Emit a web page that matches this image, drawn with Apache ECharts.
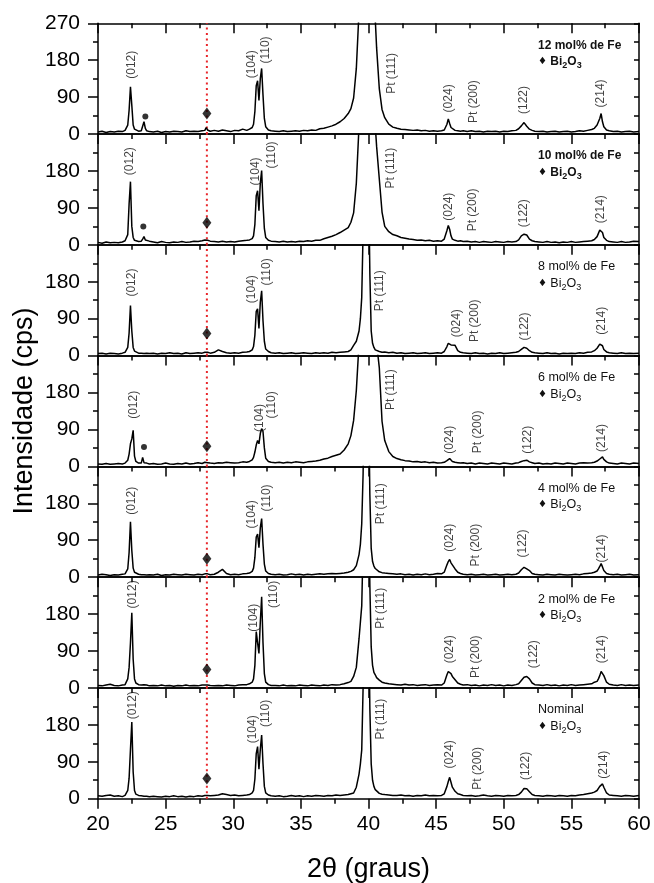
<!DOCTYPE html>
<html><head><meta charset="utf-8">
<script src="https://cdn.jsdelivr.net/npm/echarts@6/dist/echarts.min.js"></script>
<style>html,body{margin:0;padding:0;background:#fff}#c{width:654px;height:883px}</style>
</head><body><div id="c"></div><script>
const FONT = '"Liberation Sans", Arial, Helvetica, sans-serif';

// 2θ sampling positions (degrees), shared by all patterns
const twoTheta = [
  20.0, 20.3, 20.6, 20.9, 21.2, 21.5, 21.8,
  22.0, 22.1, 22.2, 22.3, 22.4, 22.5, 22.6, 22.7, 22.8, 23.0,
  23.2, 23.3, 23.4, 23.5, 23.6, 23.8,
  24.1, 24.4, 24.7, 25.0, 25.3, 25.6, 25.9, 26.2, 26.5, 26.8, 27.1, 27.4, 27.7,
  27.9, 28.0, 28.1, 28.3,
  28.6, 28.9, 29.2, 29.5, 29.8, 30.1, 30.4, 30.7, 31.0,
  31.2, 31.4, 31.5, 31.6, 31.7, 31.8, 31.9, 32.0, 32.1, 32.2, 32.3, 32.4, 32.6, 32.8,
  33.1, 33.4, 33.7, 34.0, 34.3, 34.6, 34.9, 35.2, 35.5, 35.8, 36.1, 36.4, 36.7, 37.0, 37.3, 37.6,
  37.9, 38.2, 38.5, 38.7, 38.9, 39.1, 39.3, 39.4, 39.5, 39.6, 39.7, 39.8, 39.9, 40.0, 40.1, 40.2, 40.3, 40.4, 40.5, 40.6, 40.8, 41.0, 41.2, 41.5, 41.8,
  42.1, 42.4, 42.7, 43.0, 43.3, 43.6, 43.9, 44.2, 44.5, 44.8, 45.1, 45.4,
  45.6, 45.8, 45.9, 46.0, 46.1, 46.2, 46.4, 46.6, 46.8, 47.0,
  47.3, 47.6, 47.9, 48.2, 48.5, 48.8, 49.1, 49.4, 49.7, 50.0, 50.3, 50.6,
  50.9, 51.1, 51.3, 51.5, 51.7, 51.9, 52.1, 52.3,
  52.6, 52.9, 53.2, 53.5, 53.8, 54.1, 54.4, 54.7, 55.0, 55.3, 55.6, 55.9, 56.2,
  56.5, 56.7, 56.9, 57.0, 57.1, 57.2, 57.3, 57.4, 57.6, 57.8,
  58.1, 58.4, 58.7, 59.0, 59.3, 59.6, 60.0
];

// Intensities (cps), one array per sample
const int12 = [
  5, 7, 4, 6, 5, 7, 6,
  9, 13, 22, 58, 115, 70, 22, 12, 9, 7,
  8, 12, 30, 14, 8, 6,
  5, 7, 4, 6, 5, 7, 6, 5, 8, 6, 7, 6, 8,
  9, 16, 10, 7,
  9, 7, 10, 8, 6, 9, 8, 12, 9,
  12, 16, 24, 55, 118, 130, 82, 135, 160, 95, 38, 18, 10, 8,
  7, 6, 8, 6, 7, 8, 7, 9, 8, 10, 9, 13, 14, 17, 20, 24,
  30, 38, 50, 62, 88, 160, 300, 400, 500, 600, 700, 750, 750, 700, 600, 500, 400, 320, 280, 210, 110, 60, 40, 24, 17,
  14, 12, 11, 10, 9, 10, 8, 9, 7, 8, 7, 8,
  10, 24, 37, 26, 16, 12, 9, 8, 7, 8,
  6, 8, 6, 7, 5, 7, 6, 7, 5, 7, 6, 8,
  9, 13, 20, 28, 19, 12, 9, 7,
  6, 7, 5, 6, 7, 5, 6, 7, 5, 6, 8, 7, 9,
  11, 14, 22, 30, 38, 50, 30, 18, 10, 8,
  6, 7, 5, 6, 7, 5, 6
];
const int10 = [
  6, 4, 7, 5, 6, 5, 7,
  10, 12, 25, 100, 154, 45, 18, 11, 10, 8,
  9, 14, 20, 12, 14, 9,
  7, 5, 8, 6, 5, 7, 6, 8, 6, 7, 9, 8, 10,
  12, 14, 11, 9,
  8, 7, 9, 7, 8, 7, 9, 10, 11,
  12, 15, 22, 50, 120, 132, 83, 150, 181, 100, 40, 18, 11, 9,
  8, 7, 9, 7, 8, 7, 9, 8, 10, 9, 11, 11, 15, 18, 21, 25,
  30, 36, 42, 55, 78, 150, 290, 400, 500, 600, 700, 750, 750, 700, 600, 500, 420, 350, 290, 240, 160, 80, 45, 32, 25,
  22, 18, 16, 14, 13, 11, 12, 10, 11, 9, 10, 9,
  14, 35, 47, 38, 22, 14, 11, 9, 10, 8,
  9, 7, 8, 6, 8, 7, 6, 8, 7, 6, 8, 7,
  8, 12, 22, 26, 24, 14, 10, 8,
  7, 6, 8, 6, 7, 5, 7, 6, 8, 6, 7, 8, 9,
  10, 13, 20, 28, 36, 40, 30, 18, 11, 8,
  7, 6, 8, 6, 7, 9, 8
];
const int8 = [
  5, 6, 4, 6, 5, 4, 6,
  8, 12, 20, 55, 122, 60, 20, 11, 8, 6,
  6, 7, 5, 7, 6, 5,
  6, 4, 6, 5, 7, 5, 6, 4, 7, 5, 6, 7, 6,
  8, 10, 8, 6,
  8, 14, 10, 7, 6, 7, 6, 8, 9,
  10, 14, 22, 50, 108, 114, 66, 130, 158, 85, 35, 16, 10, 7,
  6, 7, 5, 6, 7, 5, 6, 7, 6, 5, 7, 6, 7, 6, 8, 7,
  8, 9, 10, 14, 25, 35, 60, 90, 142, 300, 600, 750, 700, 450, 200, 60, 30, 20, 14, 12, 10, 8, 9, 7, 8,
  6, 7, 5, 6, 7, 5, 6, 7, 5, 6, 7, 6,
  10, 22, 30, 32, 26, 30, 25, 12, 8, 7,
  6, 5, 7, 5, 6, 4, 6, 5, 7, 5, 6, 7,
  8, 10, 15, 20, 18, 12, 8, 7,
  6, 5, 7, 5, 6, 4, 6, 5, 6, 5, 7, 6, 8,
  9, 12, 18, 22, 28, 32, 24, 15, 9, 7,
  6, 5, 7, 5, 6, 5, 6
];
const int6 = [
  6, 5, 7, 5, 6, 7, 6,
  8, 10, 15, 30, 55, 67, 88, 25, 12, 8,
  8, 22, 9, 7, 8, 6,
  7, 5, 6, 8, 6, 5, 7, 6, 8, 6, 7, 9, 7,
  10, 12, 9, 8,
  7, 9, 8, 10, 9, 8, 9, 11, 10,
  12, 16, 22, 35, 52, 63, 55, 80, 92, 85, 45, 20, 12, 10,
  9, 10, 8, 10, 9, 11, 10, 9, 11, 12, 13, 15, 18, 20, 24, 27,
  30, 40, 55, 75, 112, 185, 300, 400, 500, 600, 700, 750, 750, 720, 650, 560, 470, 400, 350, 300, 240, 110, 63, 36, 24,
  19, 16, 14, 13, 11, 12, 10, 11, 9, 10, 8, 9,
  10, 14, 17, 19, 15, 12, 10, 9, 8, 9,
  7, 8, 6, 8, 7, 6, 8, 7, 6, 8, 7, 6,
  8, 9, 12, 14, 15, 11, 9, 7,
  8, 6, 7, 6, 8, 7, 6, 8, 7, 6, 8, 9, 8,
  9, 10, 13, 16, 18, 21, 23, 17, 11, 8,
  7, 6, 8, 7, 6, 8, 7
];
const int4 = [
  5, 7, 6, 4, 6, 5, 7,
  8, 11, 20, 60, 135, 65, 22, 12, 9, 7,
  6, 8, 6, 7, 5, 6,
  5, 7, 4, 6, 5, 7, 6, 5, 7, 6, 5, 7, 6,
  8, 10, 8, 6,
  7, 12, 19, 9, 6, 7, 6, 8, 9,
  10, 14, 22, 48, 98, 105, 72, 120, 143, 80, 32, 15, 9, 7,
  6, 7, 5, 6, 8, 6, 7, 5, 7, 6, 7, 8, 7, 8, 9, 8,
  9, 10, 12, 14, 18, 28, 55, 80, 130, 250, 500, 700, 650, 450, 200, 70, 38, 27, 21, 17, 13, 11, 10, 9, 8,
  7, 8, 6, 7, 5, 7, 6, 8, 6, 7, 9, 8,
  12, 30, 38, 43, 35, 30, 20, 12, 9, 7,
  6, 7, 5, 6, 7, 5, 6, 7, 5, 6, 7, 6,
  7, 10, 18, 24, 20, 16, 9, 7,
  6, 5, 7, 6, 5, 7, 6, 5, 6, 7, 6, 8, 9,
  10, 12, 15, 20, 26, 33, 25, 16, 9, 7,
  6, 7, 5, 6, 7, 5, 6
];
const int2 = [
  6, 5, 7, 9, 6, 5, 7,
  8, 12, 22, 50, 110, 183, 70, 22, 12, 8,
  7, 6, 8, 6, 7, 5,
  6, 5, 7, 5, 6, 4, 6, 5, 7, 5, 6, 5, 7,
  7, 9, 7, 6,
  5, 6, 5, 7, 6, 5, 7, 8, 8,
  10, 14, 22, 55, 137, 110, 84, 160, 222, 110, 35, 14, 8, 6,
  6, 5, 7, 5, 6, 5, 7, 6, 5, 7, 6, 5, 7, 6, 8, 7,
  8, 10, 13, 16, 28, 50, 120, 160, 200, 350, 600, 750, 700, 500, 250, 100, 55, 38, 32, 25, 19, 14, 12, 10, 9,
  8, 7, 9, 7, 8, 6, 7, 8, 6, 7, 8, 7,
  12, 32, 40, 44, 35, 28, 20, 12, 9, 7,
  8, 6, 7, 5, 7, 6, 8, 6, 7, 5, 7, 6,
  8, 10, 18, 26, 28, 22, 12, 8,
  7, 6, 8, 6, 7, 5, 7, 6, 8, 6, 7, 8, 9,
  10, 14, 16, 22, 30, 40, 44, 30, 14, 9,
  7, 6, 8, 6, 7, 6, 7
];
const intNominal = [
  7, 6, 8, 9, 6, 7, 5,
  8, 11, 20, 50, 120, 187, 65, 20, 11, 8,
  7, 8, 6, 7, 6, 5,
  6, 5, 4, 6, 5, 7, 5, 6, 4, 6, 5, 7, 6,
  8, 10, 8, 7,
  8, 9, 12, 10, 8, 9, 7, 8, 9,
  10, 14, 20, 48, 110, 127, 72, 120, 155, 85, 30, 14, 9, 7,
  6, 7, 5, 6, 8, 6, 7, 5, 7, 6, 8, 7, 6, 8, 7, 9,
  8, 9, 10, 12, 14, 28, 60, 85, 119, 270, 550, 750, 700, 500, 220, 85, 45, 30, 22, 18, 13, 11, 10, 9, 8,
  8, 9, 7, 8, 6, 8, 7, 9, 7, 8, 7, 8,
  12, 30, 42, 52, 40, 28, 18, 12, 10, 8,
  7, 8, 6, 7, 9, 7, 6, 8, 7, 6, 8, 7,
  8, 10, 16, 25, 24, 17, 10, 8,
  7, 6, 8, 7, 6, 8, 7, 6, 8, 7, 9, 10, 12,
  14, 16, 20, 24, 30, 34, 36, 28, 14, 9,
  8, 7, 6, 8, 7, 6, 8
];

const patterns = [int12, int10, int8, int6, int4, int2, intNominal];
const panelNames = ['12 mol% de Fe', '10 mol% de Fe', '8 mol% de Fe', '6 mol% de Fe', '4 mol% de Fe', '2 mol% de Fe', 'Nominal'];
const panelBold = [true, true, false, false, false, false, false];

// x-axis and y-axis ticks
const xMin = 20, xMax = 60, xStep = 5;
const yMin = 0, yMax = 270, yStep = 90;

// Peak annotation labels: [2θ, intensity] of label centre, per panel
const peakNames = ['(012)', '(104)', '(110)', 'Pt (111)', '(024)', 'Pt (200)', '(122)', '(214)'];
const peakLabelPos = [
  [[22.46,169],[31.36,170],[32.40,205],[41.74,148],[45.90,87],[47.80,79],[51.50,83],[57.20,99]],
  [[22.35,204],[31.63,179],[32.83,219],[41.65,187],[45.90,93],[47.73,85],[51.50,77],[57.20,87]],
  [[22.49,178],[31.36,162],[32.45,204],[40.82,158],[46.52,79],[47.87,85],[51.57,71],[57.26,85]],
  [[22.61,150],[31.98,118],[32.84,150],[41.65,187],[46.03,65],[48.06,84],[51.78,65],[57.26,69]],
  [[22.46,186],[31.36,153],[32.47,193],[40.89,179],[46.00,96],[47.94,78],[51.42,82],[57.26,70]],
  [[22.56,228],[31.52,171],[32.99,228],[40.89,194],[46.00,94],[47.94,76],[52.23,82],[57.26,94]],
  [[22.59,228],[31.45,169],[32.41,208],[40.91,194],[46.00,108],[48.06,74],[51.60,80],[57.40,83]]
];

// Bi2O3 reflection marker (diamond) and extra-phase dots
const bi2o3X = 28.05;
const bi2o3Y = [50, 54, 54, 49, 45, 45, 49];
const dotPanel = [0, 1, 3];
const dotX = [23.5, 23.35, 23.4];
const dotY = [43, 45, 47];

// ---------------- layout ----------------
const LEFT = 98, WIDTH = 541, TOP0 = 23.3, PH = 110.77, N = patterns.length;

const grids = [], xAxes = [], yAxes = [], series = [], graphics = [];
const axisLineStyle = { color: '#000', width: 1.5 };

for (let i = 0; i < N; i++) {
  const top = TOP0 + i * PH;
  grids.push({ left: LEFT, top: top, width: WIDTH, height: PH, containLabel: false, outerBoundsMode: 'none' });
  const last = i === N - 1;
  xAxes.push({
    gridIndex: i, type: 'value', position: 'bottom', min: xMin, max: xMax, interval: xStep,
    axisLine: { show: true, onZero: false, lineStyle: axisLineStyle },
    axisTick: { show: last, inside: false, length: 10, lineStyle: { color: '#000', width: 1.5 } },
    minorTick: { show: last, splitNumber: 2, length: 5, lineStyle: { color: '#000', width: 1.5 } },
    axisLabel: { show: last, fontSize: 21, fontFamily: FONT, color: '#000', margin: 15 },
    splitLine: { show: false }, minorSplitLine: { show: false }
  });
  xAxes.push({
    gridIndex: i, type: 'value', position: 'top', min: xMin, max: xMax, interval: xStep,
    axisLine: { show: true, onZero: false, lineStyle: axisLineStyle },
    axisTick: { show: true, inside: true, length: 10, lineStyle: { color: '#000', width: 1.5 } },
    minorTick: { show: true, splitNumber: 2, length: 5, lineStyle: { color: '#000', width: 1.5 } },
    axisLabel: { show: false }, splitLine: { show: false }
  });
  yAxes.push({
    gridIndex: i, type: 'value', position: 'left', min: yMin, max: yMax, interval: yStep,
    axisLine: { show: true, onZero: false, lineStyle: axisLineStyle },
    axisTick: { show: true, inside: false, length: 10, lineStyle: { color: '#000', width: 1.5 } },
    minorTick: { show: true, splitNumber: 2, length: 5, lineStyle: { color: '#000', width: 1.5 } },
    axisLabel: {
      show: true, fontSize: 21, fontFamily: FONT, color: '#000', margin: 18,
      formatter: (v) => (v === yMax && i > 0) ? '' : String(v)
    },
    splitLine: { show: false }
  });
  yAxes.push({
    gridIndex: i, type: 'value', position: 'right', min: yMin, max: yMax, interval: yStep / 2,
    axisLine: { show: true, onZero: false, lineStyle: axisLineStyle },
    axisTick: { show: true, inside: true, length: 5, lineStyle: { color: '#000', width: 1.5 } },
    axisLabel: { show: false }, splitLine: { show: false }
  });

  const xi = 2 * i, yi = 2 * i;
  series.push({
    type: 'line', xAxisIndex: xi, yAxisIndex: yi, data: [[bi2o3X, yMin], [bi2o3X, yMax]],
    symbol: 'none', silent: true, z: 1,
    lineStyle: { color: '#e8262b', width: 2, type: [2, 3.5] }
  });
  series.push({
    type: 'line', xAxisIndex: xi, yAxisIndex: yi,
    data: twoTheta.map((x, j) => [x, patterns[i][j]]),
    showSymbol: false, symbol: 'none', clip: true, z: 3,
    lineStyle: { color: '#000', width: 1.5 }
  });
  series.push({
    type: 'scatter', xAxisIndex: xi, yAxisIndex: yi, data: [[bi2o3X, bi2o3Y[i]]],
    symbol: 'diamond', symbolSize: [9, 12], itemStyle: { color: '#000' }, z: 4
  });
  const di = dotPanel.indexOf(i);
  if (di >= 0) {
    series.push({
      type: 'scatter', xAxisIndex: xi, yAxisIndex: yi, data: [[dotX[di], dotY[di]]],
      symbol: 'circle', symbolSize: 6, itemStyle: { color: '#000' }, z: 4
    });
  }
  series.push({
    type: 'scatter', xAxisIndex: xi, yAxisIndex: yi, silent: true, z: 5,
    data: peakLabelPos[i].map((p, k) => ({ value: p, name: peakNames[k] })),
    symbolSize: 1, itemStyle: { color: 'rgba(0,0,0,0)' },
    label: { show: true, position: 'inside', rotate: 90, formatter: '{b}', fontSize: 12, fontFamily: FONT, color: '#111' }
  });

  const bold = panelBold[i] ? 'bold' : 'normal';
  const fs = panelBold[i] ? 12 : 12.5;
  graphics.push({
    type: 'text', x: 538, y: top + 22, silent: true,
    style: { text: panelNames[i], fontSize: fs, fontWeight: bold, fontFamily: FONT, fill: '#111', align: 'left', verticalAlign: 'middle' }
  });
  graphics.push({
    type: 'text', x: 538, y: top + 38.5, silent: true,
    style: {
      text: '{d|♦} {n|Bi}{s|2}{n|O}{s|3}', align: 'left', verticalAlign: 'middle', fill: '#111',
      rich: {
        d: { fontSize: 10, fontFamily: 'DejaVu Sans', lineHeight: 17, fill: '#111' },
        n: { fontSize: fs, fontWeight: bold, fontFamily: FONT, lineHeight: 17, fill: '#111' },
        s: { fontSize: 9, fontWeight: bold, fontFamily: FONT, lineHeight: 9, verticalAlign: 'bottom', fill: '#111' }
      }
    }
  });
}

graphics.push({
  type: 'text', x: 25, y: TOP0 + N * PH / 2, rotation: Math.PI / 2, silent: true,
  style: { text: 'Intensidade (cps)', fontSize: 27, fontFamily: FONT, fill: '#000', align: 'center', verticalAlign: 'middle' }
});
graphics.push({
  type: 'text', x: LEFT + WIDTH / 2, y: 870, silent: true,
  style: { text: '2θ (graus)', fontSize: 27, fontFamily: FONT, fill: '#000', align: 'center', verticalAlign: 'middle' }
});

const chart = echarts.init(document.getElementById('c'), null, { renderer: 'canvas' });
chart.setOption({
  animation: false,
  backgroundColor: '#fff',
  grid: grids, xAxis: xAxes, yAxis: yAxes, series: series, graphic: graphics
});
</script></body></html>
